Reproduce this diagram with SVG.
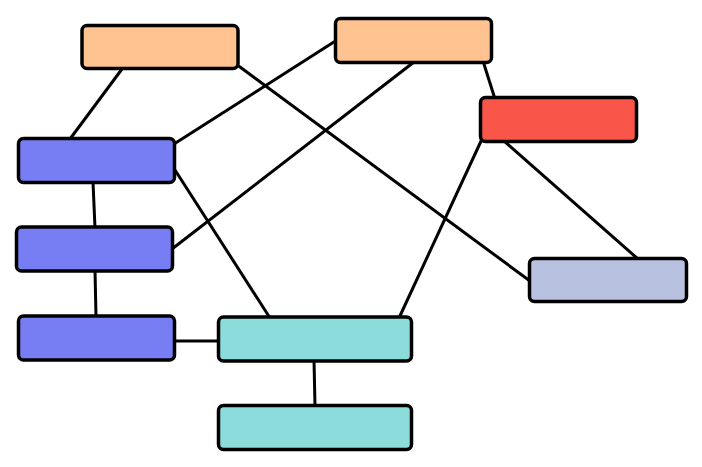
<svg xmlns="http://www.w3.org/2000/svg" width="702" height="467" viewBox="0 0 702 467">
<style>
.n{stroke:#000;stroke-width:3.5;}
.e line{stroke:#000;stroke-width:3;stroke-linecap:butt;}
.or{fill:#FFC391;}
.rd{fill:#F95549;}
.bl{fill:#777DF3;}
.tl{fill:#8CDCDB;}
.lv{fill:#B8C2E0;}
</style>
<rect width="702" height="467" fill="#fff"/>
<g id="connectors" class="e">
<line x1="122" y1="69" x2="70" y2="139"/>
<line x1="236" y1="64" x2="530" y2="281"/>
<line x1="337" y1="40" x2="174" y2="144"/>
<line x1="414" y1="62" x2="172" y2="249"/>
<line x1="483" y1="61" x2="495" y2="99"/>
<line x1="503" y1="140" x2="638" y2="259"/>
<line x1="482" y1="139" x2="399" y2="318"/>
<line x1="93" y1="182" x2="95" y2="228"/>
<line x1="175" y1="170" x2="270" y2="318"/>
<line x1="95" y1="270" x2="96" y2="317"/>
<line x1="173" y1="341" x2="220" y2="341"/>
<line x1="314" y1="360" x2="315" y2="406"/>
</g>
<g id="node1"><rect class="n or" x="82" y="25.5" width="156" height="43" rx="5"/></g>
<g id="node2"><rect class="n or" x="335.5" y="18.5" width="156" height="44" rx="5"/></g>
<g id="node3"><rect class="n rd" x="480.5" y="97.5" width="156" height="44" rx="5"/></g>
<g id="node4"><rect class="n bl" x="18.5" y="138.5" width="156" height="44" rx="5"/></g>
<g id="node5"><rect class="n bl" x="16.5" y="227" width="156" height="44" rx="5"/></g>
<g id="node6"><rect class="n bl" x="18.5" y="316" width="156" height="44" rx="5"/></g>
<g id="node7"><rect class="n tl" x="218.5" y="317" width="193" height="44" rx="5"/></g>
<g id="node8"><rect class="n tl" x="218.5" y="405.5" width="193" height="44" rx="5"/></g>
<g id="node9"><rect class="n lv" x="529.5" y="258.5" width="157" height="43" rx="5"/></g>
</svg>
